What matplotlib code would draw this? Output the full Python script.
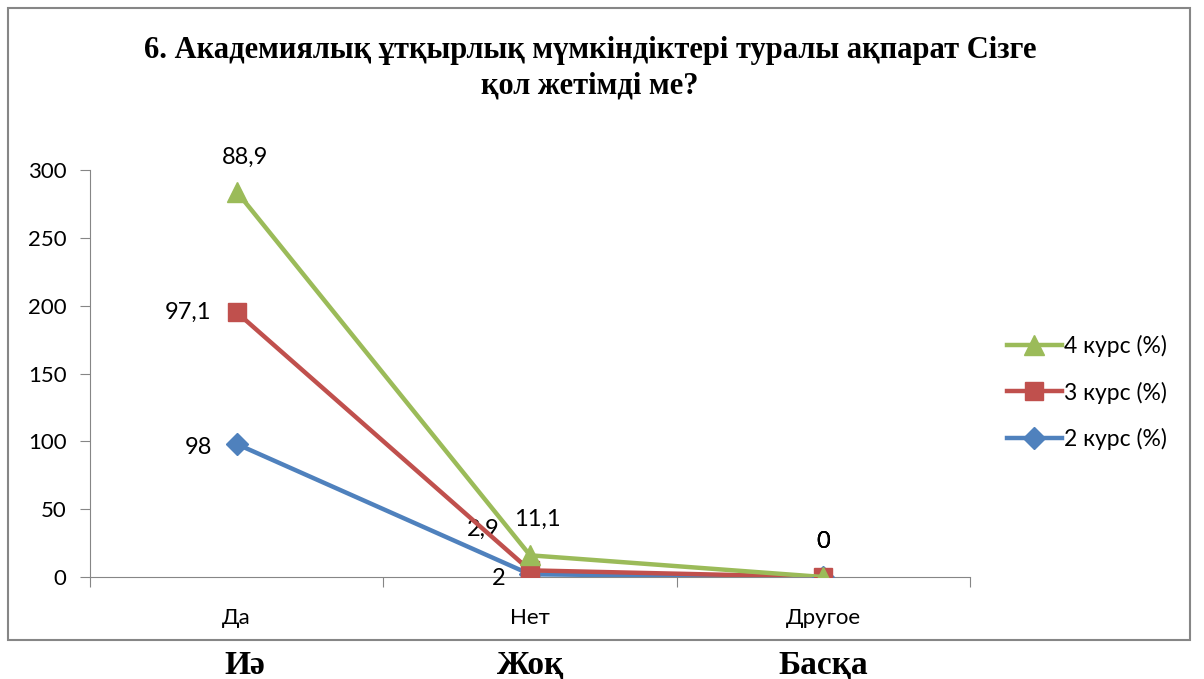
import numpy as np
import matplotlib.pyplot as plt
from matplotlib.patches import Rectangle

categories = ['Да', 'Нет', 'Другое']
bottom_labels = ['Иә', 'Жоқ', 'Басқа']
kurs2 = [98, 2, 0]
kurs3 = [97.1, 2.9, 0]
kurs4 = [88.9, 11.1, 0]
series_names = ['2 курс (%)', '3 курс (%)', '4 курс (%)']
title = '6. Академиялық ұтқырлық мүмкіндіктері туралы ақпарат Сізге\nқол жетімді ме?'

def fmt(v):
    return ('%g' % v).replace('.', ',')

def main():
    plt.rcParams['font.family'] = ['Lato', 'DejaVu Sans']
    fig = plt.figure(figsize=(12.04, 6.79), dpi=100)
    # рамка диаграммы
    fig.patches.append(Rectangle((0.0066, 0.0574), 0.9817, 0.931, transform=fig.transFigure,
                                 fill=False, edgecolor='#868686', linewidth=1.5))
    ax = fig.add_axes([0.0748, 0.1502, 0.7309, 0.5994])

    x = np.arange(len(categories))
    raw = [kurs2, kurs3, kurs4]
    stacked = np.cumsum(np.array(raw), axis=0)
    colors = ['#4F81BD', '#C0504D', '#9BBB59']
    markers = ['D', 's', '^']
    msizes = [11, 13, 14]
    # смещения подписей (пиксели)
    offs = [
        [(-25, -3, 'right'), (-25, -4, 'right'), (0, 36, 'center')],
        [(-25, 0, 'right'), (-30, 41, 'right'), (0, 36, 'center')],
        [(8, 34, 'center'), (7, 36, 'center'), (0, 36, 'center')],
    ]
    lines = []
    for i in range(3):
        ln, = ax.plot(x, stacked[i], color=colors[i], lw=3.2, marker=markers[i],
                      ms=msizes[i], label=series_names[i], zorder=3 + i)
        lines.append(ln)
        for j in range(3):
            dx, dy, ha = offs[i][j]
            ax.annotate(fmt(raw[i][j]), (x[j], stacked[i][j]), xytext=(dx, dy),
                        textcoords='offset pixels', ha=ha, va='center', fontsize=17)

    ax.set_xlim(-0.5, 2.5)
    ax.set_ylim(0, 300)
    ax.set_yticks(np.arange(0, 301, 50))
    ax.set_xticks([-0.5, 0.5, 1.5, 2.5])
    ax.set_xticklabels([])
    ax.set_xticks(x, minor=True)
    ax.set_xticklabels(categories, minor=True, fontsize=16)
    ax.tick_params(axis='x', which='minor', length=0, pad=22)
    ax.tick_params(axis='both', which='major', length=7, color='#868686', labelsize=16)
    ax.tick_params(axis='y', pad=10)
    for s in ['top', 'right']:
        ax.spines[s].set_visible(False)
    for s in ['left', 'bottom']:
        ax.spines[s].set_color('#868686')

    fig.text(0.49, 0.9, title, ha='center', va='center', fontsize=22,
             fontweight='bold', family='Liberation Serif', linespacing=1.3)

    ax.legend(lines[::-1], series_names[::-1], loc='center left', bbox_to_anchor=(0.819, 0.422),
              bbox_transform=fig.transFigure, frameon=False, fontsize=16.5,
              handlelength=2.4, handletextpad=0.1, labelspacing=1.05)

    for j, lab in enumerate(bottom_labels):
        px = [245, 530, 823][j] / 1204
        fig.text(px, 1 - 665 / 679, lab, ha='center', va='center', fontsize=24,
                 fontweight='bold', family='Liberation Serif')

    fig.savefig('out.png', dpi=100)

if __name__ == '__main__':
    main()
